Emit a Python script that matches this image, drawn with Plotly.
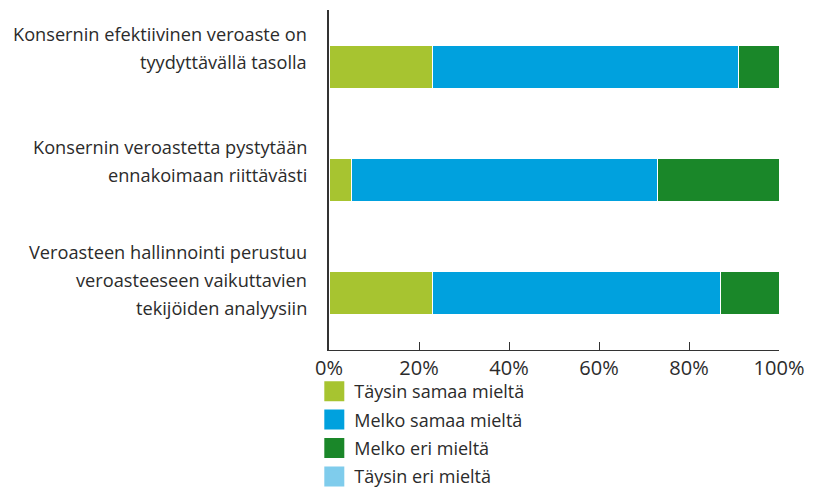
import plotly.graph_objects as go

categories = [
    "Konsernin efektiivinen veroaste on\ntyydyttävällä tasolla",
    "Konsernin veroastetta pystytään\nennakoimaan riittävästi",
    "Veroasteen hallinnointi perustuu\nveroasteeseen vaikuttavien\ntekijöiden analyysiin",
]
series_names = ["Täysin samaa mieltä", "Melko samaa mieltä", "Melko eri mieltä", "Täysin eri mieltä"]
taysin_samaa = [23, 5, 23]
melko_samaa = [68, 68, 64]
melko_eri = [9, 27, 14]
taysin_eri = [0, 0, 0]
tick_values = [0, 20, 40, 60, 80, 100]
tick_labels = ["0%", "20%", "40%", "60%", "80%", "100%"]

colors = ["#A7C430", "#00A1DE", "#1A8729", "#7FCCEC"]
series_values = [taysin_samaa, melko_samaa, melko_eri, taysin_eri]

FONT = "Open Sans"
TXT = "#2b2b2b"

fig = go.Figure()
for name, vals, col in zip(series_names, series_values, colors):
    fig.add_trace(go.Bar(
        y=categories, x=vals, orientation="h", name=name,
        marker=dict(color=col, line=dict(color="white", width=1)),
        showlegend=False, hoverinfo="x+name", cliponaxis=False,
    ))
# legend proxies
for i, (name, col) in enumerate(zip(series_names, colors)):
    fig.add_trace(go.Scatter(
        x=[None], y=[None], mode="markers", name=name,
        marker=dict(symbol="square", size=16, color=col, line=dict(color=col, width=4)),
        legendgroup=f"g{i}", showlegend=True,
    ))

# category labels as annotations (multi-line with wider spacing)
base_shift = [33, 33, 41]
annotations = []
for i, cat in enumerate(categories):
    for j, line in enumerate(cat.split("\n")):
        annotations.append(dict(
            xref="paper", yref="y", x=0, y=cat, text=line,
            xanchor="right", yanchor="middle", xshift=-20,
            yshift=base_shift[i] - 28 * j, showarrow=False,
            font=dict(family=FONT, size=18.2, color=TXT),
        ))

fig.update_layout(
    width=819, height=491,
    margin=dict(l=321, r=48, t=2, b=149, autoexpand=False),
    barmode="stack", bargap=0.62,
    plot_bgcolor="white", paper_bgcolor="white",
    font=dict(family=FONT, size=18, color=TXT),
    annotations=annotations,
    legend=dict(
        xref="container", yref="container",
        x=0.374, y=0.2566, xanchor="left", yanchor="top",
        font=dict(family=FONT, size=18, color=TXT),
        itemsizing="trace", tracegroupgap=2, traceorder="grouped",
        bgcolor="rgba(0,0,0,0)",
    ),
)
fig.update_xaxes(
    range=[0, 100], tickvals=tick_values, ticktext=tick_labels,
    ticks="inside", ticklen=8, tickcolor="#333", tickwidth=1,
    showline=True, linecolor="#333", linewidth=1, showgrid=False, zeroline=False,
    tickfont=dict(family=FONT, size=20, color=TXT),
)
fig.update_yaxes(
    categoryorder="array", categoryarray=categories, autorange="reversed",
    showticklabels=False, showline=True, linecolor="#333", linewidth=1.5,
    showgrid=False, ticks="",
)

fig.write_html("out.html")
